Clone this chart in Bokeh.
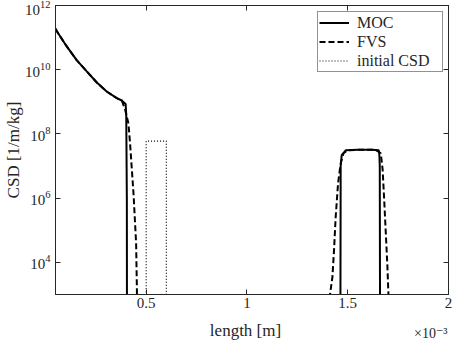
from bokeh.plotting import figure
from bokeh.models import Range1d, FixedTicker, LinearAxis, LogAxis, Legend, LegendItem, Label
from bokeh.embed import file_html
from bokeh.resources import INLINE

FONT = "Liberation Serif"
INK = "#262626"

# crystal length in units of 1e-3 m, CSD in 1/m/kg
decay_len = [0.05, 0.056, 0.105, 0.155, 0.205, 0.255, 0.304, 0.354, 0.379]
decay_csd = [1.9e11, 1.6e11, 5.4e10, 2.0e10, 8.9e9, 4.0e9, 2.1e9, 1.3e9, 1.1e9]

moc_len = decay_len + [0.387, 0.398, 0.401, 0.404, 0.405,
                       1.463, 1.465, 1.470, 1.490, 1.550, 1.620, 1.654, 1.657, 1.659, 1.661, 2.0]
moc_csd = decay_csd + [9.8e8, 8.5e8, 4.0e8, 1.0e6, 1.0,
                       1.0, 1.0e7, 2.2e7, 3.1e7, 3.2e7, 3.2e7, 3.1e7, 2.2e7, 1.0e7, 1.0, 1.0]

fvs_len = decay_len + [0.387, 0.396, 0.412, 0.420, 0.437, 0.450, 0.454, 0.455,
                       1.410, 1.412, 1.424, 1.432, 1.440, 1.452, 1.465, 1.479, 1.500,
                       1.550, 1.620, 1.645, 1.664, 1.673, 1.681, 1.689, 1.697, 1.702, 1.703, 2.0]
fvs_csd = decay_csd + [8.0e8, 5.6e8, 2.1e8, 5.0e7, 1.4e6, 4.0e4, 1.3e3, 1.0,
                       1.0, 1.0e3, 3.5e3, 2.4e4, 2.5e5, 2.9e6, 1.2e7, 2.5e7, 3.1e7,
                       3.2e7, 3.2e7, 3.0e7, 2.5e7, 8.0e6, 8.7e5, 8.0e4, 7.0e3, 1.0e3, 1.0, 1.0]

# initial distribution: a block between 0.5 and 0.6, empty (shown at axis floor) elsewhere
init_len = [0.05, 0.5, 0.5, 0.6, 0.6, 2.0]
init_csd = [1e3, 1e3, 6e7, 6e7, 1e3, 1e3]

x_ticks = [0.5, 1.0, 1.5, 2.0]
x_tick_labels = ["0.5", "1", "1.5", "2"]
y_ticks = [1e4, 1e6, 1e8, 1e10, 1e12]

p = figure(width=455, height=344, x_range=Range1d(0.05, 2.0), y_range=Range1d(1e3, 1e12),
           y_axis_type="log", output_backend="svg", toolbar_location=None,
           min_border_left=55, min_border_right=7, min_border_top=5, min_border_bottom=0,
           background_fill_color="white", border_fill_color="white")
p.grid.visible = False
p.outline_line_color = INK
p.outline_line_width = 1

r_moc = p.line(moc_len, moc_csd, line_color="black", line_width=2)
r_fvs = p.line(fvs_len, fvs_csd, line_color="black", line_width=2, line_dash="6 3")
r_init = p.line(init_len, init_csd, line_color="black", line_width=1.2, line_dash="1 2")


def style_axis(ax, show_labels=True):
    ax.axis_line_color = INK
    ax.major_tick_line_color = INK
    ax.major_tick_in = 5
    ax.major_tick_out = 0
    ax.minor_tick_line_color = None
    ax.major_label_text_font = FONT
    ax.major_label_text_font_size = "15px" if show_labels else "0px"
    ax.major_label_text_color = INK
    ax.axis_label_text_font = FONT
    ax.axis_label_text_font_size = "17px"
    ax.axis_label_text_font_style = "normal"
    ax.axis_label_text_color = INK


xa = p.xaxis[0]
xa.ticker = FixedTicker(ticks=x_ticks)
xa.major_label_overrides = dict(zip(x_ticks, x_tick_labels))
style_axis(xa)
xa.major_label_standoff = 3

ya = p.yaxis[0]
ya.ticker = FixedTicker(ticks=y_ticks, minor_ticks=[])
ya.axis_label = "CSD [1/m/kg]"
style_axis(ya)
ya.major_label_standoff = 5
ya.axis_label_standoff = -1

top = LinearAxis(ticker=FixedTicker(ticks=x_ticks), major_label_overrides={t: "" for t in x_ticks})
style_axis(top, False)
top.major_label_standoff = 0
p.add_layout(top, "above")

right = LogAxis(ticker=FixedTicker(ticks=y_ticks, minor_ticks=[]),
                major_label_overrides={t: "" for t in y_ticks})
style_axis(right, False)
right.major_label_standoff = 0
p.add_layout(right, "right")

legend = Legend(items=[LegendItem(label="MOC", renderers=[r_moc]),
                       LegendItem(label="FVS", renderers=[r_fvs]),
                       LegendItem(label="initial CSD", renderers=[r_init])],
                location=(262, 222), orientation="vertical",
                label_text_font=FONT, label_text_font_size="16px", label_text_color=INK,
                glyph_width=30, glyph_height=19, label_height=19, label_width=84,
                label_standoff=8, padding=1, spacing=0, margin=0,
                border_line_color=INK, border_line_width=1,
                background_fill_color="white", background_fill_alpha=1)
p.add_layout(legend)

# texts under the length axis: axis title and the x10^-3 multiplier
p.add_layout(Label(x=190, y=-1, x_units="screen", y_units="screen", text="length [m]",
                   text_font=FONT, text_font_size="17px", text_color=INK,
                   text_align="center", text_baseline="middle"), "below")
p.add_layout(Label(x=392, y=11, x_units="screen", y_units="screen", text="\u00d710\u207b\u00b3",
                   text_font="Liberation Serif, DejaVu Serif", text_font_size="14px", text_color=INK,
                   text_align="right", text_baseline="middle"), "below")

open("out.html", "w").write(file_html(p, INLINE))
